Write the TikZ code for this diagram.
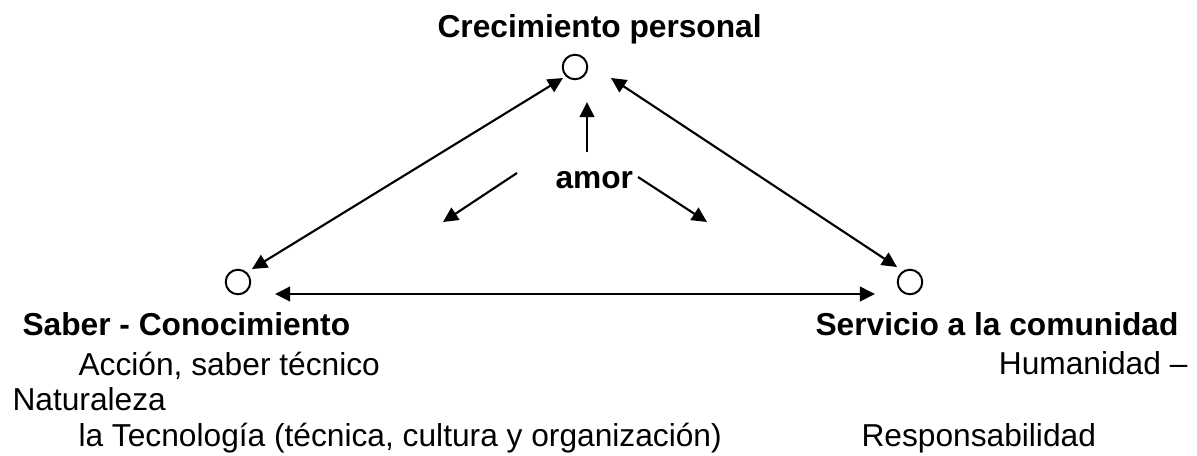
\documentclass[tikz,border=0pt]{standalone}
\usepackage{fontspec}
\setmainfont{Liberation Sans}
\usetikzlibrary{arrows.meta,positioning}

\begin{document}
\begin{tikzpicture}[
        x=0.3785pt, y=-0.3785pt,
        punto/.style={draw, circle, line width=0.75pt, minimum size=9.3pt, inner sep=0pt},
        flecha/.style={line width=0.8pt, -{Triangle[length=5.7pt, width=5.5pt]}},
        doble/.style={line width=0.8pt, {Triangle[length=5.7pt, width=5.5pt]}-{Triangle[length=5.7pt, width=5.5pt]}},
        titulo/.style={font=\fontsize{12}{14}\selectfont\bfseries, anchor=base west, inner sep=0pt},
        texto/.style={font=\fontsize{12}{14}\selectfont, anchor=base west, inner sep=0pt}
    ]
    \useasboundingbox (0,0) rectangle (1197,456);

    \node[punto] (crecimiento) at (575,67) {};
    \node[punto] (saber) at (238,282) {};
    \node[punto] (servicio) at (910,282) {};

    \node[titulo] (tcrec) at (437,37) {Crecimiento personal};
    \node[titulo] (amor) at (555,188) {amor};
    \node[titulo] (tsaber) at (22,335) {Saber - Conocimiento};
    \node[titulo] (tserv) at (815,335) {Servicio a la comunidad};

    \node[texto] (accion) at (78,375) {Acción, saber técnico};
    \node[texto, anchor=base east] (humanidad) at (1188,374) {Humanidad –};
    \node[texto] (naturaleza) at (12,410) {Naturaleza};
    \node[texto] (tecnologia) at (78,446) {la Tecnología (técnica, cultura y organización)};
    \node[texto] (responsab) at (861,446) {Responsabilidad};

    \draw[doble] ([shift={(-12,11)}]crecimiento.center) -- ([shift={(14,-13)}]saber.center) ;
    \draw[doble] ([shift={(36,11)}]crecimiento.center) -- ([shift={(-13,-15)}]servicio.center) ;
    \draw[doble] ([shift={(37,12)}]saber.center) -- ([shift={(-35,12)}]servicio.center) ;

    \draw[flecha] ([shift={(32,-36)}]amor.base west) -- ([shift={(32,-86)}]amor.base west) ;
    \draw[flecha] ([shift={(-38,-15)}]amor.base west) -- ([shift={(-112,34)}]amor.base west) ;
    \draw[flecha] ([shift={(83,-11)}]amor.base west) -- ([shift={(152,34)}]amor.base west) ;

\end{tikzpicture}
\end{document}
